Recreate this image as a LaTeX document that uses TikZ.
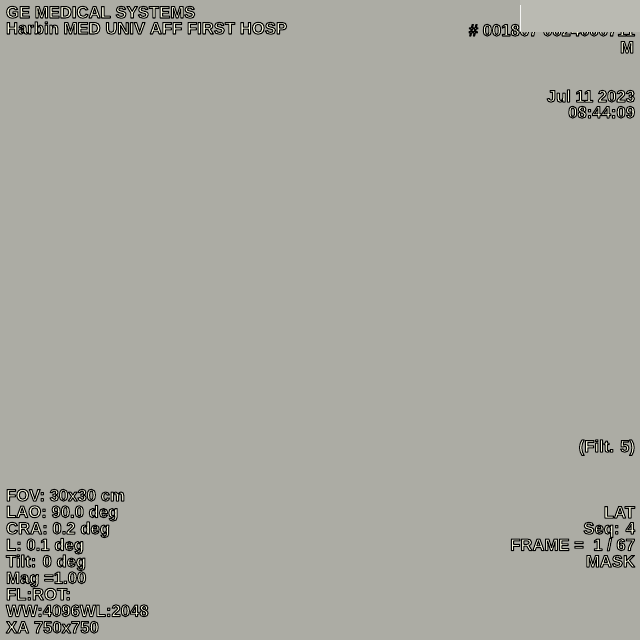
\documentclass[tikz,border=0pt]{standalone}
\usepackage{fontspec}
\setmainfont{Liberation Sans}
\definecolor{bg}{RGB}{172,172,164}
\definecolor{patch}{RGB}{186,186,178}
\definecolor{fg}{RGB}{252,252,228}
\newcommand\otext[1]{{\color{fg}\special{pdf:literal 2 Tr 0 0 0 RG 1.0 w 1 j}#1\special{pdf:literal 0 Tr}}}
\tikzset{
  lbl/.style={inner sep=0pt, outer sep=0pt, font=\fontsize{16.7}{16.7}\selectfont\bfseries},
  lft/.style={lbl, anchor=base west},
  rgt/.style={lbl, anchor=base east}
}
\begin{document}
\begin{tikzpicture}[x=1pt,y=-1pt]
\fill[bg] (0,0) rectangle (640,640);
\useasboundingbox (0,0) rectangle (640,640);
% top left
\node[lft] (sys) at (6,18) {\otext{GE MEDICAL SYSTEMS}};
\node[lft] (hosp) at (6,34) {\otext{Harbin MED UNIV AFF FIRST HOSP}};
% top right
\node[rgt] (id) at (635,36) {\otext{\# 001867 0024000711}};
\fill[patch] (520,0) rectangle (640,32);
\draw[white!85!patch, line width=0.8pt] (520.5,5) -- (520.5,31);
\node[rgt] (sex) at (634,53) {\otext{M}};
\node[rgt] (date) at (635,102) {\otext{Jul 11 2023}};
\node[rgt] (time) at (635,118) {\otext{08:44:09}};
% right middle
\node[rgt] (filt) at (635,452) {\otext{(Filt. 5)}};
% bottom left
\node[lft] (fov) at (6,501) {\otext{FOV: 30x30 cm}};
\node[lft] (lao) at (6,517.5) {\otext{LAO: 90.0 deg}};
\node[lft] (cra) at (6,534) {\otext{CRA: 0.2 deg}};
\node[lft] (l) at (6,550.5) {\otext{L: 0.1 deg}};
\node[lft] (tilt) at (6,567) {\otext{Tilt: 0 deg}};
\node[lft] (mag) at (6,583.5) {\otext{Mag =1.00}};
\node[lft] (fl) at (6,600) {\otext{FL:ROT:}};
\node[lft] (ww) at (6,616.5) {\otext{WW:4096WL:2048}};
\node[lft] (xa) at (6,633) {\otext{XA 750x750}};
% bottom right
\node[rgt] (lat) at (635,518) {\otext{LAT}};
\node[rgt] (seq) at (635,534) {\otext{Seq: 4}};
\node[rgt] (frame) at (635,550.5) {\otext{FRAME =\ \ 1 / 67}};
\node[rgt] (mask) at (635,567) {\otext{MASK}};
\end{tikzpicture}
\end{document}
